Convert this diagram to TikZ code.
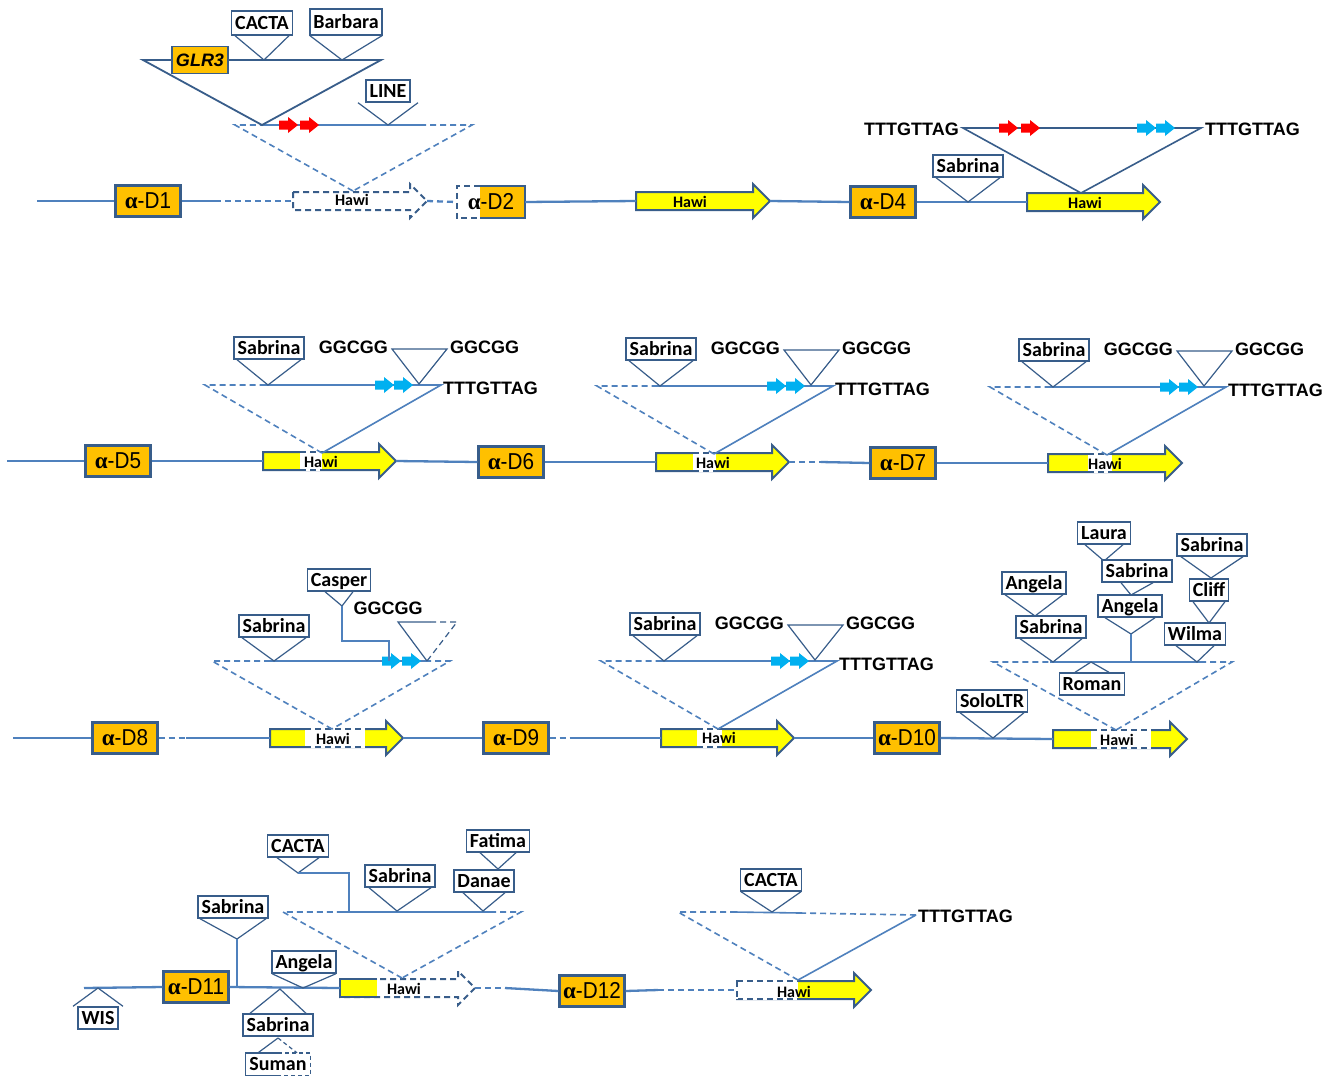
\documentclass[tikz,border=0pt]{standalone}
\usepackage{fontspec}
\setmainfont{Carlito}
\newfontfamily\arialf{Liberation Sans}
\newfontfamily\narrowf[FakeStretch=0.9]{Liberation Sans}
\newfontfamily\timesf{Liberation Serif}
\usetikzlibrary{calc}
\definecolor{linec}{RGB}{79,129,189}
\definecolor{boxc}{RGB}{56,93,138}
\definecolor{orangec}{RGB}{255,192,0}
\definecolor{yellowc}{RGB}{255,255,0}
\definecolor{redc}{RGB}{255,0,0}
\definecolor{cyanc}{RGB}{0,176,240}
\newcommand\ga{{\timesf\bfseries α}}
\newcommand\smarr[3]{\fill[#3] (#1,#2-4.5) -- (#1+9,#2-4.5) -- (#1+9,#2-8) -- (#1+19,#2) -- (#1+9,#2+8) -- (#1+9,#2+4.5) -- (#1,#2+4.5) -- cycle;}
\newcommand\vdownw[3]{\draw[tri] ($(#1.south)+(-#3,0)$) -- (#2) -- ($(#1.south)+(#3,0)$);}
\newcommand\vupw[3]{\draw[tri] ($(#1.north)+(-#3,0)$) -- (#2) -- ($(#1.north)+(#3,0)$);}
\newcommand\hawi[5]{%
  \coordinate (#1s) at (#2,#4);
  \coordinate (#1t) at (#3,#4);
  \draw[harrow,#5] (#2,#4-9) -- (#3-17,#4-9) -- (#3-17,#4-17) -- (#3,#4) -- (#3-17,#4+17) -- (#3-17,#4+9) -- (#2,#4+9) -- cycle;}
\newcommand\hwhite[3]{%
  \fill[white] (#1,#3-8) rectangle (#2,#3+8);
  \draw[white, line width=2.8pt] (#1,#3-9) -- (#2,#3-9) (#1,#3+9) -- (#2,#3+9);
  \draw[boxc, line width=2pt, dsh] (#1,#3-9) -- (#2,#3-9) (#1,#3+9) -- (#2,#3+9);}
\newcommand\insA[3]{\begin{scope}[shift={(#1,#2)}]
  \node[lab] (sab#3) at (269,348) {Sabrina};
  \coordinate (sa#3) at (268,385);
  \coordinate (L#3) at (205,385);
  \coordinate (M#3) at (262,385);
  \coordinate (R#3) at (441,385);
  \coordinate (A#3) at (322,453);
  \draw[insl,dsh] (A#3) -- (L#3) -- (M#3);
  \draw[insl] (M#3) -- (R#3) -- (A#3);
  \smarr{375}{385}{cyanc}\smarr{394}{385}{cyanc}
  \coordinate (g#3) at (419,384);
  \coordinate (gl#3) at (392,349);
  \coordinate (gr#3) at (447,349);
  \draw[tri] (gl#3) -- (g#3) -- (gr#3) -- cycle;
  \node[seq,anchor=east] (ga#3) at (389,347) {GGCGG};
  \node[seq,anchor=west] (gb#3) at (449,347) {GGCGG};
  \node[seq,anchor=west] (tt#3) at (442,388) {TTTGTTAG};
  \vdownw{sab#3}{sa#3}{32}
\end{scope}}
\begin{document}
\begin{tikzpicture}[x=1pt,y=-1pt,
  lab/.style={draw=boxc, line width=1.4pt, fill=white, font=\fontsize{20}{20}\selectfont\bfseries, inner xsep=3.5pt, inner ysep=0pt, minimum height=22pt, text height=13pt, text depth=0pt},
  gene/.style={draw=boxc, line width=2.2pt, fill=orangec, minimum width=65pt, minimum height=31pt, inner sep=0pt, font=\narrowf\fontsize{23}{23}\selectfont},
  tri/.style={draw=boxc, line width=1.2pt},
  chrom/.style={draw=linec, line width=2.3pt},
  insl/.style={draw=linec, line width=1.6pt},
  dsh/.style={dash pattern=on 6pt off 4pt},
  seq/.style={font=\arialf\fontsize{18}{18}\selectfont\bfseries, inner sep=1pt},
  hw/.style={font=\fontsize{16}{16}\selectfont\bfseries, inner sep=0pt},
  harrow/.style={draw=boxc, line width=2pt, fill=yellowc, line join=miter}]
\useasboundingbox (0,0) rectangle (1335,1076);
\fill[white] (0,0) rectangle (1335,1076);

% ===== Row 1 =====
\node[gene] (d1) at (148,201) {\ga-D1};
\coordinate (r1a) at (37,201);
\coordinate (r1b) at (215,201);
\draw[chrom] (r1a) -- (d1.west);
\draw[chrom] (d1.east) -- (r1b);
\hawi{h1}{293}{427}{201}{dsh, fill=white}
\node[hw] (h1n) at (352,200) {Hawi};
\draw[chrom,dsh] (r1b) -- (h1s);
\node[minimum width=68pt, minimum height=32pt, inner sep=0pt] (d2) at (491,202) {};
\fill[orangec] ($(d2.north west)+(23,0)$) rectangle (d2.south east);
\draw[boxc,line width=2.2pt] ($(d2.north west)+(23,0)$) -- (d2.north east) -- (d2.south east) -- ($(d2.south west)+(23,0)$);
\draw[boxc,line width=2.2pt,dsh] ($(d2.north west)+(23,0)$) -- (d2.north west) -- (d2.south west) -- ($(d2.south west)+(23,0)$);
\node[font=\narrowf\fontsize{23}{23}\selectfont, inner sep=0pt] (d2t) at (d2) {\ga-D2};
\draw[chrom,dsh] (h1t) -- (d2.west);
\hawi{h2}{636}{770}{201}{}
\node[hw] (h2n) at (690,202) {Hawi};
\draw[chrom] (d2.east) -- (h2s);
\node[gene] (d4) at (883,202) {\ga-D4};
\draw[chrom] (h2t) -- (d4.west);
\hawi{h3}{1027}{1160}{202}{}
\node[hw] (h3n) at (1085,203) {Hawi};
\draw[chrom] (d4.east) -- (h3s);
\node[lab] (s4) at (968,166) {Sabrina};
\coordinate (s4a) at (968,202);
\vdownw{s4}{s4a}{32}

% left insertion row 1
\coordinate (i1L) at (235,125);
\coordinate (i1R) at (472,125);
\coordinate (i1A) at (353,191);
\coordinate (i1m) at (262,125);
\coordinate (i1n) at (420,125);
\draw[insl,dsh] (i1A) -- (i1L) -- (i1m);
\draw[insl] (i1m) -- (i1n);
\draw[insl,dsh] (i1n) -- (i1R) -- (i1A);
\coordinate (t1L) at (143,60);
\coordinate (t1R) at (381,60);
\draw[boxc, line width=1.8pt] (t1L) -- (i1m) -- (t1R) -- cycle;
\smarr{279}{125}{redc}\smarr{300}{125}{redc}
\node[draw=boxc, line width=1.6pt, fill=orangec, minimum width=56pt, minimum height=27pt, inner sep=0pt, font=\arialf\fontsize{18}{18}\selectfont\bfseries\itshape] (glr) at (200,60) {GLR3};
\node[lab, minimum height=24pt] (c1) at (262,23) {CACTA};
\coordinate (c1a) at (264,60);
\vdownw{c1}{c1a}{27}
\node[lab, minimum height=26pt] (b1) at (346,22) {Barbara};
\coordinate (b1a) at (342,60);
\vdownw{b1}{b1a}{36}
\node[lab] (l1) at (388,91) {LINE};
\coordinate (l1a) at (388,125);
\vdownw{l1}{l1a}{30}

% right insertion row 1
\coordinate (i2L) at (963,128);
\coordinate (i2R) at (1201,128);
\coordinate (i2A) at (1081,193);
\draw[boxc, line width=1.6pt] (i2L) -- (i2R) -- (i2A) -- cycle;
\smarr{999}{128}{redc}\smarr{1021}{128}{redc}
\smarr{1137}{128}{cyanc}\smarr{1156}{128}{cyanc}
\node[seq,anchor=east] (tt1) at (960,129) {TTTGTTAG};
\node[seq,anchor=west] (tt2) at (1204,129) {TTTGTTAG};

% ===== Row 2 =====
\node[gene] (d5) at (118,461) {\ga-D5};
\coordinate (r2a) at (7,461);
\draw[chrom] (r2a) -- (d5.west);
\hawi{h5}{263}{396}{461}{}
\hwhite{300}{322}{461}
\node[hw] (h5n) at (321,462) {Hawi};
\draw[chrom] (d5.east) -- (h5s);
\node[gene] (d6) at (511,462) {\ga-D6};
\draw[chrom] (h5t) -- (d6.west);
\hawi{h6}{656}{789}{462}{}
\hwhite{693}{716}{462}
\node[hw] (h6n) at (713,463) {Hawi};
\draw[chrom] (d6.east) -- (h6s);
\coordinate (r2b) at (821,462);
\draw[chrom,dsh] (h6t) -- (r2b);
\node[gene] (d7) at (903,463) {\ga-D7};
\draw[chrom] (r2b) -- (d7.west);
\hawi{h7}{1048}{1182}{463}{}
\hwhite{1088}{1112}{463}
\node[hw] (h7n) at (1105,464) {Hawi};
\draw[chrom] (d7.east) -- (h7s);
\insA{0}{0}{5}
\insA{392}{1}{6}
\insA{785}{2}{7}

% ===== Row 3 =====
\node[gene] (d8) at (125,738) {\ga-D8};
\coordinate (r3a) at (13,738);
\draw[chrom] (r3a) -- (d8.west);
\coordinate (r3b) at (186,738);
\draw[chrom,dsh] (d8.east) -- (r3b);
\hawi{h8}{270}{403}{738}{}
\hwhite{305}{365}{738}
\node[hw] (h8n) at (333,739) {Hawi};
\draw[chrom] (r3b) -- (h8s);
\node[gene] (d9) at (516,738) {\ga-D9};
\draw[chrom] (h8t) -- (d9.west);
\coordinate (r3c) at (576,738);
\draw[chrom,dsh] (d9.east) -- (r3c);
\hawi{h9}{661}{794}{738}{}
\hwhite{697}{722}{738}
\node[hw] (h9n) at (719,738) {Hawi};
\draw[chrom] (r3c) -- (h9s);
\node[gene] (d10) at (907,738) {\ga-D10};
\draw[chrom] (h9t) -- (d10.west);
\hawi{h10}{1053}{1187}{739}{}
\hwhite{1091}{1151}{739}
\node[hw] (h10n) at (1117,740) {Hawi};
\draw[chrom] (d10.east) -- (h10s);
\node[lab] (solo) at (992,701) {SoloLTR};
\coordinate (soloa) at (993,738);
\vdownw{solo}{soloa}{32}

% D8 insertion
\coordinate (L8) at (212,661);
\coordinate (M8) at (268,661);
\coordinate (N8) at (425,661);
\coordinate (R8) at (450,661);
\coordinate (A8) at (332,729);
\draw[insl,dsh] (A8) -- (L8) -- (M8);
\draw[insl] (M8) -- (N8);
\draw[insl,dsh] (N8) -- (R8) -- (A8);
\smarr{382}{661}{cyanc}\smarr{402}{661}{cyanc}
\node[lab] (sab8) at (274,626) {Sabrina};
\coordinate (sa8) at (274,661);
\vdownw{sab8}{sa8}{32}
\node[lab] (casp) at (339,580) {Casper};
\coordinate (ca8) at (342,606);
\vdownw{casp}{ca8}{14}
\coordinate (cb8) at (342,641);
\coordinate (cc8) at (389,641);
\coordinate (cd8) at (389,661);
\draw[insl] (ca8) -- (cb8) -- (cc8) -- (cd8);
\node[seq] (g8) at (388,608) {GGCGG};
\coordinate (q1) at (398,622);
\coordinate (q2) at (430,622);
\coordinate (q3) at (457,622);
\coordinate (qa) at (427,661);
\draw[tri] (q2) -- (q1) -- (qa);
\draw[tri,dsh] (q2) -- (q3) -- (qa);

% D9 insertion
\insA{396}{276}{9}

% D10 insertion
\coordinate (L10) at (993,662);
\coordinate (M10) at (1050,662);
\coordinate (N10) at (1200,662);
\coordinate (R10) at (1232,662);
\coordinate (A10) at (1116,730);
\draw[insl,dsh] (A10) -- (L10) -- (M10);
\draw[insl] (M10) -- (N10);
\draw[insl,dsh] (N10) -- (R10) -- (A10);
\node[lab] (ang1) at (1034,583) {Angela};
\node[lab] (sab10) at (1051,627) {Sabrina};
\coordinate (ang1a) at (1035,616);
\vdownw{ang1}{ang1a}{29}
\coordinate (s10a) at (1053,662);
\vdownw{sab10}{s10a}{31}
\node[lab] (rom) at (1092,684) {Roman};
\coordinate (roma) at (1091,662);
\vupw{rom}{roma}{17}
\node[lab] (laura) at (1104,533) {Laura};
\coordinate (laa) at (1104,561);
\vdownw{laura}{laa}{19}
\node[lab] (sab10b) at (1137,571) {Sabrina};
\coordinate (s10ba) at (1131,595);
\vdownw{sab10b}{s10ba}{16}
\node[lab] (ang2) at (1130,606) {Angela};
\coordinate (ang2a) at (1131,634);
\vdownw{ang2}{ang2a}{25}
\coordinate (v10) at (1131,662);
\draw[insl] (ang2a) -- (v10);
\node[lab] (sab10c) at (1212,545) {Sabrina};
\coordinate (s10ca) at (1211,578);
\vdownw{sab10c}{s10ca}{31}
\node[lab] (cliff) at (1209,590) {Cliff};
\coordinate (clia) at (1209,623);
\vdownw{cliff}{clia}{16}
\node[lab] (wilma) at (1195,634) {Wilma};
\coordinate (wia) at (1197,662);
\vdownw{wilma}{wia}{19}

% ===== Row 4 =====
\node[gene] (d11) at (196,987) {\ga-D11};
\coordinate (r4a) at (84,988);
\draw[chrom] (r4a) -- (d11.west);
\node[lab] (wis) at (98,1018) {WIS};
\coordinate (wisa) at (98,988);
\vupw{wis}{wisa}{25}
\hawi{h11}{340}{475}{988}{dsh, fill=white}
\fill[yellowc] (340,979) rectangle (377,997);
\draw[boxc,line width=2pt] (377,979) -- (340,979) -- (340,997) -- (377,997);
\node[hw] (h11n) at (404,989) {Hawi};
\draw[chrom] (d11.east) -- (h11s);
\node[lab] (sab11) at (233,907) {Sabrina};
\coordinate (s11a) at (237,939);
\vdownw{sab11}{s11a}{33}
\coordinate (v11) at (237,988);
\draw[insl] (s11a) -- (v11);
\node[lab] (ang11) at (304,962) {Angela};
\coordinate (ang11a) at (303,988);
\vdownw{ang11}{ang11a}{32}
\node[lab] (sab11b) at (278,1025) {Sabrina};
\coordinate (s11ba) at (280,989);
\vupw{sab11b}{s11ba}{28}
\node[font=\fontsize{20}{20}\selectfont\bfseries, inner xsep=3.5pt, inner ysep=0pt, minimum height=22pt, text height=13pt, text depth=0pt, minimum width=64pt] (suman) at (278,1064) {Suman};
\draw[tri,line width=1.4pt] (suman.north) -- (suman.north west) -- (suman.south west) -- (suman.south);
\draw[tri,line width=1.4pt,dash pattern=on 4pt off 3pt] (suman.north) -- (suman.north east) -- (suman.south east) -- (suman.south);
\coordinate (suma) at (278,1038);
\draw[tri] ($(suman.north)+(-20,0)$) -- (suma);
\draw[tri,dash pattern=on 4pt off 3pt] (suma) -- ($(suman.north)+(19,0)$);

% D11 insertion
\coordinate (L11) at (283,912);
\coordinate (M11) at (340,912);
\coordinate (N11) at (490,912);
\coordinate (R11) at (521,912);
\coordinate (A11) at (402,978);
\draw[insl,dsh] (A11) -- (L11) -- (M11);
\draw[insl] (M11) -- (N11);
\draw[insl,dsh] (N11) -- (R11) -- (A11);
\node[lab] (c11) at (298,846) {CACTA};
\coordinate (c11a) at (298,873);
\vdownw{c11}{c11a}{21}
\coordinate (c11b) at (349,873);
\coordinate (c11c) at (349,912);
\draw[insl] (c11a) -- (c11b) -- (c11c);
\node[lab] (sab11c) at (400,876) {Sabrina};
\coordinate (s11ca) at (397,911);
\vdownw{sab11c}{s11ca}{31}
\node[lab] (fat) at (498,841) {Fatima};
\coordinate (fata) at (498,869);
\vdownw{fat}{fata}{18}
\node[lab] (dan) at (484,881) {Danae};
\coordinate (dana) at (483,911);
\vdownw{dan}{dana}{21}

% D12
\coordinate (r4b) at (505,988);
\draw[chrom,dsh] (h11t) -- (r4b);
\node[gene] (d12) at (592,991) {\ga-D12};
\draw[chrom] (r4b) -- (d12.west);
\coordinate (r4c) at (658,990);
\draw[chrom] (d12.east) -- (r4c);
\hawi{h12}{737}{871}{990}{}
\hwhite{737}{798}{990}
\draw[white, line width=2.8pt] (737,981) -- (737,999);
\draw[boxc, line width=2pt, dsh] (737,981) -- (737,999);
\node[hw] (h12n) at (794,992) {Hawi};
\draw[chrom,dsh] (r4c) -- (h12s);
\coordinate (L12) at (678,912);
\coordinate (M12) at (735,912);
\coordinate (N12) at (800,913);
\coordinate (R12) at (916,915);
\coordinate (A12) at (798,980);
\draw[insl,dsh] (A12) -- (L12) -- (M12);
\draw[insl] (M12) -- (N12);
\draw[insl,dsh] (N12) -- (R12);
\draw[insl] (R12) -- (A12);
\node[lab] (c12) at (771,880) {CACTA};
\coordinate (c12a) at (772,912);
\vdownw{c12}{c12a}{30}
\node[seq,anchor=west] (tt12) at (917,916) {TTTGTTAG};
\end{tikzpicture}
\end{document}
